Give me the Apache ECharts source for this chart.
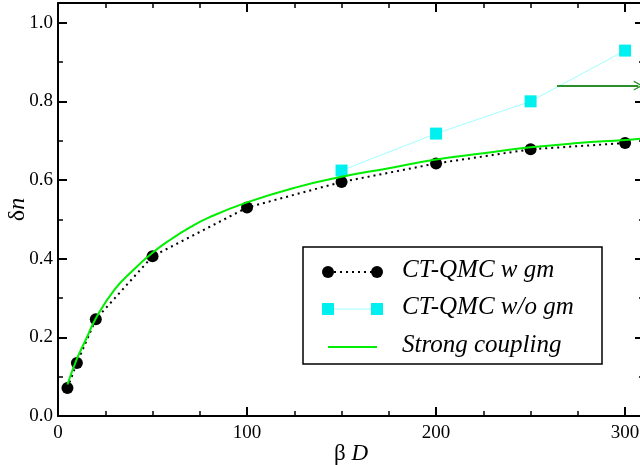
<!DOCTYPE html>
<html>
<head>
<meta charset="utf-8">
<script src="https://cdn.jsdelivr.net/npm/echarts@6/dist/echarts.min.js"></script>
<style>
  html, body { margin: 0; padding: 0; background: #fff; }
  #chart { width: 640px; height: 465px; }
</style>
</head>
<body>
<div id="chart"></div>
<script>
// CT-QMC with global moves
const betaD = [5, 10, 20, 50, 100, 150, 200, 250, 300];
const dnWithGm = [0.071, 0.135, 0.246, 0.406, 0.530, 0.595, 0.642, 0.678, 0.694];

// CT-QMC without global moves
const betaDNoGm = [150, 200, 250, 300];
const dnNoGm = [0.624, 0.718, 0.800, 0.929];

// strong coupling curve
const betaDStrong = [5, 10, 15, 20, 30, 40, 50, 60, 70, 80, 100, 125, 150, 175, 200, 225, 250, 275, 300, 310];
const dnStrong = [0.080, 0.145, 0.197, 0.248, 0.322, 0.372, 0.415, 0.450, 0.480, 0.505, 0.543, 0.580, 0.608, 0.630, 0.652, 0.668, 0.683, 0.694, 0.702, 0.706];

// arrow pointing off the right edge
const arrowFrom = [264, 0.84];
const arrowTo = [307, 0.84];

const seriesNames = ['CT-QMC w gm', 'CT-QMC w/o gm', 'Strong coupling'];

const FONT = "'Liberation Serif', 'DejaVu Serif', serif";
const toPairs = (xs, ys) => xs.map((x, i) => [x, ys[i]]);

const chart = echarts.init(document.getElementById('chart'));

// onZero off, otherwise the mirrored axes jump onto the main ones
const axisCommon = {
  axisLine: { onZero: false, lineStyle: { color: '#000', width: 2 } },
  axisTick: { inside: true, length: 9, lineStyle: { color: '#000', width: 2 } },
  splitLine: { show: false },
};
const minorX = { show: true, splitNumber: 4, length: 5, lineStyle: { color: '#000', width: 1.5 } };
const minorY = { show: true, splitNumber: 2, length: 5, lineStyle: { color: '#000', width: 1.5 } };

const legendRows = [
  { y: 272, name: seriesNames[0] },
  { y: 309, name: seriesNames[1] },
  { y: 347, name: seriesNames[2] },
];

const option = {
  backgroundColor: '#fff',
  animation: false,
  grid: { left: 58, right: -4, top: 3, bottom: 49, containLabel: false, outerBoundsMode: 'none' },
  xAxis: [
    {
      ...axisCommon,
      type: 'value', min: 0, max: 310, interval: 100,
      minorTick: minorX,
      name: '{a|β }{b|D}',
      nameLocation: 'middle',
      nameGap: 26,
      nameMoveOverlap: false,
      nameTextStyle: {
        fontFamily: FONT, fontSize: 23, color: '#000',
        rich: {
          a: { fontFamily: FONT, fontSize: 23, color: '#000' },
          b: { fontFamily: FONT, fontSize: 23, fontStyle: 'italic', color: '#000' },
        },
      },
      axisLabel: { color: '#000', fontFamily: FONT, fontSize: 19, margin: 8, showMaxLabel: false },
    },
    {
      ...axisCommon,
      type: 'value', min: 0, max: 310, interval: 100, position: 'top',
      minorTick: minorX,
      axisLabel: { show: false },
    },
  ],
  yAxis: [
    {
      ...axisCommon,
      type: 'value', min: 0, max: 1.05, interval: 0.2,
      minorTick: minorY,
      name: '{a|δ}{b|n}',
      nameLocation: 'middle',
      nameGap: 28,
      nameMoveOverlap: false,
      nameTextStyle: {
        fontFamily: FONT, fontSize: 24, color: '#000',
        rich: {
          a: { fontFamily: FONT, fontSize: 24, color: '#000' },
          b: { fontFamily: FONT, fontSize: 24, fontStyle: 'italic', color: '#000' },
        },
      },
      axisLabel: { color: '#000', fontFamily: FONT, fontSize: 19, margin: 5, showMaxLabel: false, formatter: v => v.toFixed(1) },
    },
    {
      ...axisCommon,
      type: 'value', min: 0, max: 1.05, interval: 0.2, position: 'right',
      minorTick: minorY,
      axisLabel: { show: false },
    },
  ],
  series: [
    {
      name: seriesNames[0],
      type: 'line',
      data: toPairs(betaD, dnWithGm),
      symbol: 'circle',
      symbolSize: 12,
      itemStyle: { color: '#000' },
      lineStyle: { color: '#000', width: 2, type: [2, 4] },
      z: 3,
    },
    {
      name: seriesNames[1],
      type: 'line',
      data: toPairs(betaDNoGm, dnNoGm),
      symbol: 'rect',
      symbolSize: 12,
      itemStyle: { color: '#00f0f0' },
      lineStyle: { color: '#a0ffff', width: 1 },
      z: 4,
    },
    {
      name: seriesNames[2],
      type: 'line',
      data: toPairs(betaDStrong, dnStrong),
      smooth: true,
      showSymbol: false,
      lineStyle: { color: '#00ee00', width: 2 },
      z: 5,
      markLine: {
        silent: true,
        symbol: ['none', 'path://M0,10 L5,0 L10,10 L8.6,10 L5,3 L1.4,10 Z'],
        symbolSize: [10, 9],
        lineStyle: { color: '#2a8f2a', width: 2, type: 'solid' },
        itemStyle: { color: '#2a8f2a' },
        label: { show: false },
        data: [[{ coord: arrowFrom }, { coord: arrowTo }]],
      },
    },
  ],
  graphic: [
    {
      type: 'rect',
      shape: { x: 303, y: 247, width: 299, height: 117 },
      style: { fill: '#fff', stroke: '#000', lineWidth: 1.5 },
      z: 10,
    },
    // row 1
    { type: 'line', shape: { x1: 328, y1: 272, x2: 377, y2: 272 }, style: { stroke: '#000', lineWidth: 2, lineDash: [2, 4] }, z: 11 },
    { type: 'circle', shape: { cx: 328, cy: 272, r: 6 }, style: { fill: '#000' }, z: 12 },
    { type: 'circle', shape: { cx: 377, cy: 272, r: 6 }, style: { fill: '#000' }, z: 12 },
    // row 2
    { type: 'line', shape: { x1: 328, y1: 309, x2: 377, y2: 309 }, style: { stroke: '#a0ffff', lineWidth: 1 }, z: 11 },
    { type: 'rect', shape: { x: 322, y: 303, width: 12, height: 12 }, style: { fill: '#00f0f0' }, z: 12 },
    { type: 'rect', shape: { x: 371, y: 303, width: 12, height: 12 }, style: { fill: '#00f0f0' }, z: 12 },
    // row 3
    { type: 'line', shape: { x1: 328, y1: 347, x2: 377, y2: 347 }, style: { stroke: '#00ee00', lineWidth: 2 }, z: 11 },
    ...legendRows.map(r => ({
      type: 'text',
      x: 402, y: r.y - 2,
      style: { text: r.name, fill: '#000', fontFamily: FONT, fontSize: 25, fontStyle: 'italic', verticalAlign: 'middle' },
      z: 12,
    })),
  ],
};

chart.setOption(option);
</script>
</body>
</html>
